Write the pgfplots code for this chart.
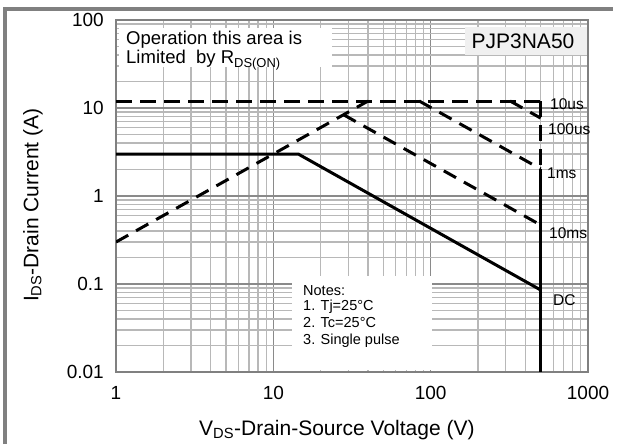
\documentclass[border=0pt]{standalone}
\usepackage{pgfplots}
\pgfplotsset{compat=1.18}
\usepackage{fontspec}
\setmainfont{Liberation Sans}
\definecolor{gridmaj}{HTML}{8A8A8A}
\definecolor{gridmin}{HTML}{B8B8B8}
\definecolor{framec}{HTML}{808080}
\definecolor{boxgray}{HTML}{F0F0F0}
\begin{document}
\begin{tikzpicture}[x=1pt,y=1pt]
\useasboundingbox (0,0) rectangle (623,444);
\fill[white] (0,0) rectangle (623,444);
\draw[framec, line width=4pt] (4.7,0) -- (4.7,435.3) -- (613,435.3);
\begin{axis}[
  at={(116pt,72pt)}, anchor=south west,
  scale only axis, width=472pt, height=352pt,
  xmode=log, ymode=log,
  xmin=1, xmax=1000, ymin=0.01, ymax=100,
  xtick={1,10,100,1000}, xticklabels={1,10,100,1000},
  ytick={0.01,0.1,1,10,100}, yticklabels={0.01,0.1,1,10,100},
  minor xtick={2,3,4,5,6,7,8,9,20,30,40,50,60,70,80,90,200,300,400,500,600,700,800,900},
  minor ytick={0.02,0.03,0.04,0.05,0.06,0.07,0.08,0.09,0.2,0.3,0.4,0.5,0.6,0.7,0.8,0.9,2,3,4,5,6,7,8,9,20,30,40,50,60,70,80,90},
  grid=both,
  major grid style={draw=gridmaj, line width=1.2pt},
  minor grid style={draw=gridmin, line width=1.2pt},
  axis line style={draw=framec, line width=1.2pt},
  tick style={draw=none},
  /pgf/number format/assume math mode=true,
  tick label style={font=\fontsize{19}{22}\selectfont},
  xticklabel style={anchor=center, yshift=-21pt},
  yticklabel style={anchor=east, inner sep=0pt, xshift=-12pt},
  label style={font=\fontsize{21}{24}\selectfont},
  xlabel={V\textsubscript{DS}-Drain-Source Voltage (V)},
  ylabel={I\textsubscript{DS}-Drain Current (A)},
  xlabel style={at={(axis description cs:0.468,-0.165)}, anchor=center},
  ylabel style={at={(axis description cs:-0.176,0.474)}, anchor=center},
]
% 12 A limit
\addplot[black, line width=3pt, dash pattern=on 16pt off 8pt] coordinates {(1,12) (500,12)};
% Rds(on) limit
\addplot[black, line width=3pt, dash pattern=on 14pt off 9pt] coordinates {(1,0.3) (40,12)};
% 100us
\addplot[black, line width=3pt, dash pattern=on 14pt off 9pt] coordinates {(320,12) (500,7.68)};
% 1ms
\addplot[black, line width=3pt, dash pattern=on 14pt off 9pt] coordinates {(84.6,12) (500,2.03)};
% 10ms
\addplot[black, line width=3pt, dash pattern=on 14pt off 9pt] coordinates {(27.9,8.4) (500,0.468)};
% vertical 500 V, dashed part
\addplot[black, line width=3pt, dash pattern=on 16pt off 8pt] coordinates {(500,12) (500,2.03)};
% DC
\addplot[black, line width=3pt] coordinates {(1,3) (14.4,3) (500,0.0855)};
\addplot[black, line width=3pt] coordinates {(500,2.03) (500,0.01)};
\end{axis}
% annotation boxes
\fill[white] (119,377) rectangle (332,416);
\node[anchor=west, inner sep=0pt, font=\fontsize{18.5}{21}\selectfont] at (126,404) {Operation this area is};
\node[anchor=west, inner sep=0pt, font=\fontsize{18.5}{21}\selectfont] at (126,384) {Limited\ \ by R\textsubscript{DS(ON)}};
\fill[boxgray] (465,389) rectangle (587,417);
\node[inner sep=0pt, font=\fontsize{21}{24}\selectfont] at (523,403) {PJP3NA50};
\fill[white] (292,74) rectangle (432,168);
\begin{scope}[every node/.style={anchor=west, inner sep=0pt, font=\fontsize{14.5}{17}\selectfont}]
\node at (303,153.5) {Notes:};
\node at (303,137.5) {1. Tj=25°C};
\node at (303,121) {2. Tc=25°C};
\node at (303,103) {3. Single pulse};
\end{scope}
\begin{scope}[every node/.style={anchor=west, inner sep=0pt, font=\fontsize{15.5}{18}\selectfont}]
\node at (550,340) {10us};
\node at (548,315) {100us};
\node at (547,271) {1ms};
\node at (549,211) {10ms};
\node at (553,144) {DC};
\end{scope}
\end{tikzpicture}
\end{document}
